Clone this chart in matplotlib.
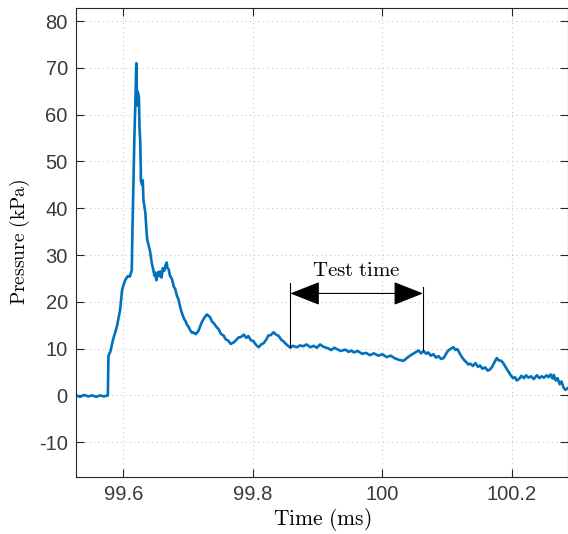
import matplotlib
matplotlib.use("Agg")
import matplotlib.pyplot as plt

plt.rcParams["mathtext.fontset"] = "cm"
plt.rcParams["axes.unicode_minus"] = False

# pressure trace (time in ms, pressure in kPa)
time_ms = [
    99.527, 99.533, 99.539, 99.546, 99.552, 99.558, 99.564, 99.570, 99.576,
    99.577, 99.580, 99.584, 99.590, 99.595, 99.598, 99.600, 99.603, 99.607,
    99.610, 99.613, 99.614, 99.616, 99.617, 99.619, 99.620, 99.621, 99.622,
    99.624, 99.625, 99.626, 99.627, 99.627, 99.629, 99.630, 99.631, 99.634,
    99.636, 99.637,
    99.641, 99.644, 99.646, 99.648, 99.649, 99.651, 99.652, 99.654, 99.656,
    99.657, 99.659, 99.661, 99.663, 99.665, 99.667, 99.668, 99.670, 99.672,
    99.675, 99.678, 99.680, 99.683, 99.685, 99.688, 99.690, 99.692, 99.694,
    99.696, 99.698, 99.701, 99.703, 99.706, 99.708, 99.712, 99.716, 99.719,
    99.721, 99.725, 99.729, 99.731, 99.734, 99.737,
    99.740, 99.744, 99.747, 99.751, 99.755, 99.758, 99.762, 99.766, 99.770,
    99.774, 99.778, 99.782, 99.786, 99.790, 99.793, 99.797, 99.801, 99.805,
    99.809, 99.813, 99.817, 99.821, 99.824, 99.828, 99.832, 99.836, 99.840,
    99.844, 99.847, 99.852, 99.858, 99.862, 99.868, 99.873, 99.878, 99.883,
    99.889, 99.894, 99.899, 99.904, 99.909, 99.916, 99.921, 99.926, 99.930,
    99.936, 99.943, 99.948, 99.952, 99.956, 99.962, 99.969, 99.975, 99.981,
    99.987, 99.994, 100.000, 100.007, 100.013, 100.020, 100.026, 100.033,
    100.038, 100.044, 100.050, 100.056, 100.060, 100.064, 100.068, 100.071,
    100.075, 100.079, 100.083, 100.087, 100.091, 100.095, 100.099, 100.102,
    100.106, 100.110, 100.113, 100.116, 100.120, 100.123, 100.127, 100.130,
    100.133, 100.136, 100.140, 100.144, 100.148, 100.151, 100.155, 100.159,
    100.163, 100.167, 100.170, 100.173, 100.177, 100.180, 100.184, 100.187,
    100.190, 100.193, 100.196, 100.198, 100.202, 100.205, 100.208, 100.212,
    100.215, 100.219, 100.222, 100.226, 100.230, 100.234, 100.239, 100.243,
    100.246, 100.250, 100.254, 100.257, 100.260, 100.263, 100.265, 100.268,
    100.271, 100.274, 100.277, 100.280, 100.283, 100.287,
]
pressure_kpa = [
    0.0, -0.3, 0.1, -0.2, 0.0, -0.3, 0.0, -0.2, 0.0,
    8.5, 9.4, 11.9, 14.7, 18.3, 22.5, 23.5, 24.7, 25.5,
    25.4, 26.8, 35.0, 48.0, 55.0, 65.0, 71.0, 62.0, 65.0,
    63.8, 57.0, 54.6, 48.0, 46.0, 45.0, 46.0, 41.8, 39.0,
    34.7, 33.2,
    31.0, 28.2, 27.0, 25.6, 26.3, 24.6, 25.2, 26.4, 25.5,
    26.5, 25.2, 27.2, 26.6, 27.8, 28.4, 27.2, 27.0, 25.6,
    24.9, 23.2, 22.8, 21.2, 20.6, 18.8, 17.8, 17.0, 16.3,
    15.9, 15.2, 14.6, 14.0, 13.4, 13.5, 13.1, 13.8, 14.9,
    15.6, 16.6, 17.3, 17.1, 16.7, 15.8,
    15.4, 14.6, 14.2, 13.1, 12.8, 12.0, 11.7, 11.0, 11.3,
    11.8, 12.4, 12.5, 13.0, 12.3, 12.7, 11.8, 11.6, 10.8,
    10.3, 10.9, 11.2, 12.0, 12.8, 12.9, 13.5, 13.0, 12.7,
    11.9, 11.6, 10.9, 10.2, 10.6, 10.3, 10.7, 10.5, 10.9,
    10.3, 10.6, 10.2, 10.9, 10.4, 10.1, 9.7, 10.2, 9.9,
    9.5, 9.8, 9.3, 9.6, 9.2, 9.5, 8.9, 9.1, 8.6,
    9.0, 8.5, 8.8, 8.2, 8.5, 7.9, 7.6, 7.4,
    8.0, 8.6, 9.1, 9.6, 9.0, 9.5, 8.9, 9.2,
    8.5, 8.8, 8.1, 8.4, 7.8, 8.0, 9.0, 9.6,
    10.0, 10.3, 9.7, 9.9, 8.9, 8.2, 7.5, 7.1,
    6.6, 6.8, 6.3, 6.9, 6.1, 6.4, 5.7, 6.0,
    5.3, 5.6, 6.2, 7.0, 8.0, 7.5, 7.4, 6.9,
    6.2, 5.5, 4.9, 4.4, 3.7, 3.9, 3.2, 3.6,
    4.2, 3.7, 4.3, 3.8, 4.1, 3.5, 4.3, 3.7,
    4.1, 3.8, 4.3, 3.9, 4.5, 3.6, 4.4, 3.2,
    3.7, 2.4, 3.0, 1.7, 1.2, 1.6,
]

# test time window
test_start, test_end = 99.858, 100.063
start_marker = [10.4, 24.0]
end_marker = [9.7, 23.2]
arrow_y = 21.8

fig = plt.figure(figsize=(5.68, 5.34), dpi=100)
ax = fig.add_axes([0.134, 0.107, 0.866, 0.878])

ax.plot(time_ms, pressure_kpa, color="#0072BD", lw=1.9)

ax.plot([test_start, test_start], start_marker, color="black", lw=0.8)
ax.plot([test_end, test_end], end_marker, color="black", lw=0.8)
ax.annotate("", xy=(test_start, arrow_y), xytext=(test_end, arrow_y),
            arrowprops=dict(arrowstyle="<|-|>,head_length=1.9,head_width=0.75",
                            color="black", lw=0.8, shrinkA=0, shrinkB=0))
ax.text((test_start + test_end) / 2, 26.8, r"$\mathrm{Test\ time}$",
        ha="center", va="center", fontsize=15)

ax.set_xlim(99.527, 100.287)
ax.set_ylim(-17.4, 82.8)
ax.set_xticks([99.6, 99.8, 100, 100.2])
ax.set_xticklabels(["99.6", "99.8", "100", "100.2"])
ax.set_yticks(range(-10, 81, 10))

ax.grid(True, linestyle=(0, (1, 3)), color="#c8c8c8", lw=0.8)
ax.tick_params(direction="in", length=6, width=0.8, top=True, right=True,
               labelsize=14.5, colors="#262626", pad=6)
for lbl in ax.get_xticklabels() + ax.get_yticklabels():
    lbl.set_fontfamily("Liberation Sans")
    lbl.set_color("#3a3a3a")
for sp in ax.spines.values():
    sp.set_color("#262626")
    sp.set_linewidth(0.8)

ax.set_xlabel(r"$\mathrm{Time\ (ms)}$", fontsize=15.5, labelpad=1)
ax.set_ylabel(r"$\mathrm{Pressure\ (kPa)}$", fontsize=14, labelpad=5)

fig.savefig("out.png", dpi=100)
